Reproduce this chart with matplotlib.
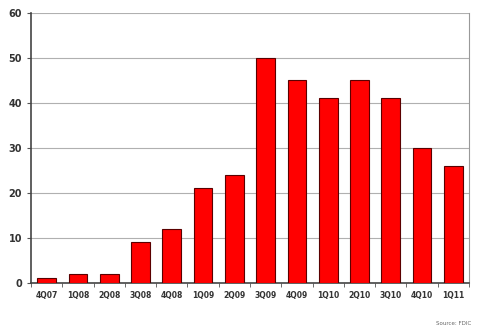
import numpy as np
import matplotlib
matplotlib.use("Agg")
from matplotlib import pyplot as plt

quarters = ["4Q07", "1Q08", "2Q08", "3Q08", "4Q08", "1Q09", "2Q09",
            "3Q09", "4Q09", "1Q10", "2Q10", "3Q10", "4Q10", "1Q11"]
values = [1, 2, 2, 9, 12, 21, 24, 50, 45, 41, 45, 41, 30, 26]

fig = plt.figure(figsize=(4.78, 3.29), dpi=100)
ax = fig.add_axes([0.065, 0.14, 0.916, 0.8205])

x = np.arange(len(quarters))
ax.bar(x, values, width=0.6, color="#ff0000", edgecolor="#5a0000", linewidth=0.8, zorder=3)

ax.set_xlim(-0.5, len(quarters) - 0.5)
ax.set_ylim(0, 60)
ax.set_yticks(range(0, 61, 10))
ax.yaxis.grid(True, color="#b0b0b0", linewidth=0.8, zorder=0)

ax.set_xticks(x)
ax.set_xticklabels(quarters, fontsize=5.5, fontweight="bold", color="#333333")
ax.set_xticks(np.arange(-0.5, len(quarters)), minor=True)
ax.tick_params(axis="x", which="major", length=0, pad=6)
ax.tick_params(axis="x", which="minor", length=3, color="#555555")
ax.tick_params(axis="y", labelsize=7, length=3, color="#555555", labelcolor="#333333")
for lbl in ax.get_yticklabels():
    lbl.set_fontweight("bold")

ax.spines["top"].set_visible(False)
ax.spines["right"].set_color("#999999")
ax.spines["left"].set_color("#444444")
ax.spines["bottom"].set_color("#444444")
ax.spines["left"].set_linewidth(1.2)
ax.spines["bottom"].set_linewidth(1.2)

fig.text(0.985, 0.01, "Source: FDIC", fontsize=4, color="#666666", ha="right", va="bottom")

fig.savefig("out.png", dpi=100)
